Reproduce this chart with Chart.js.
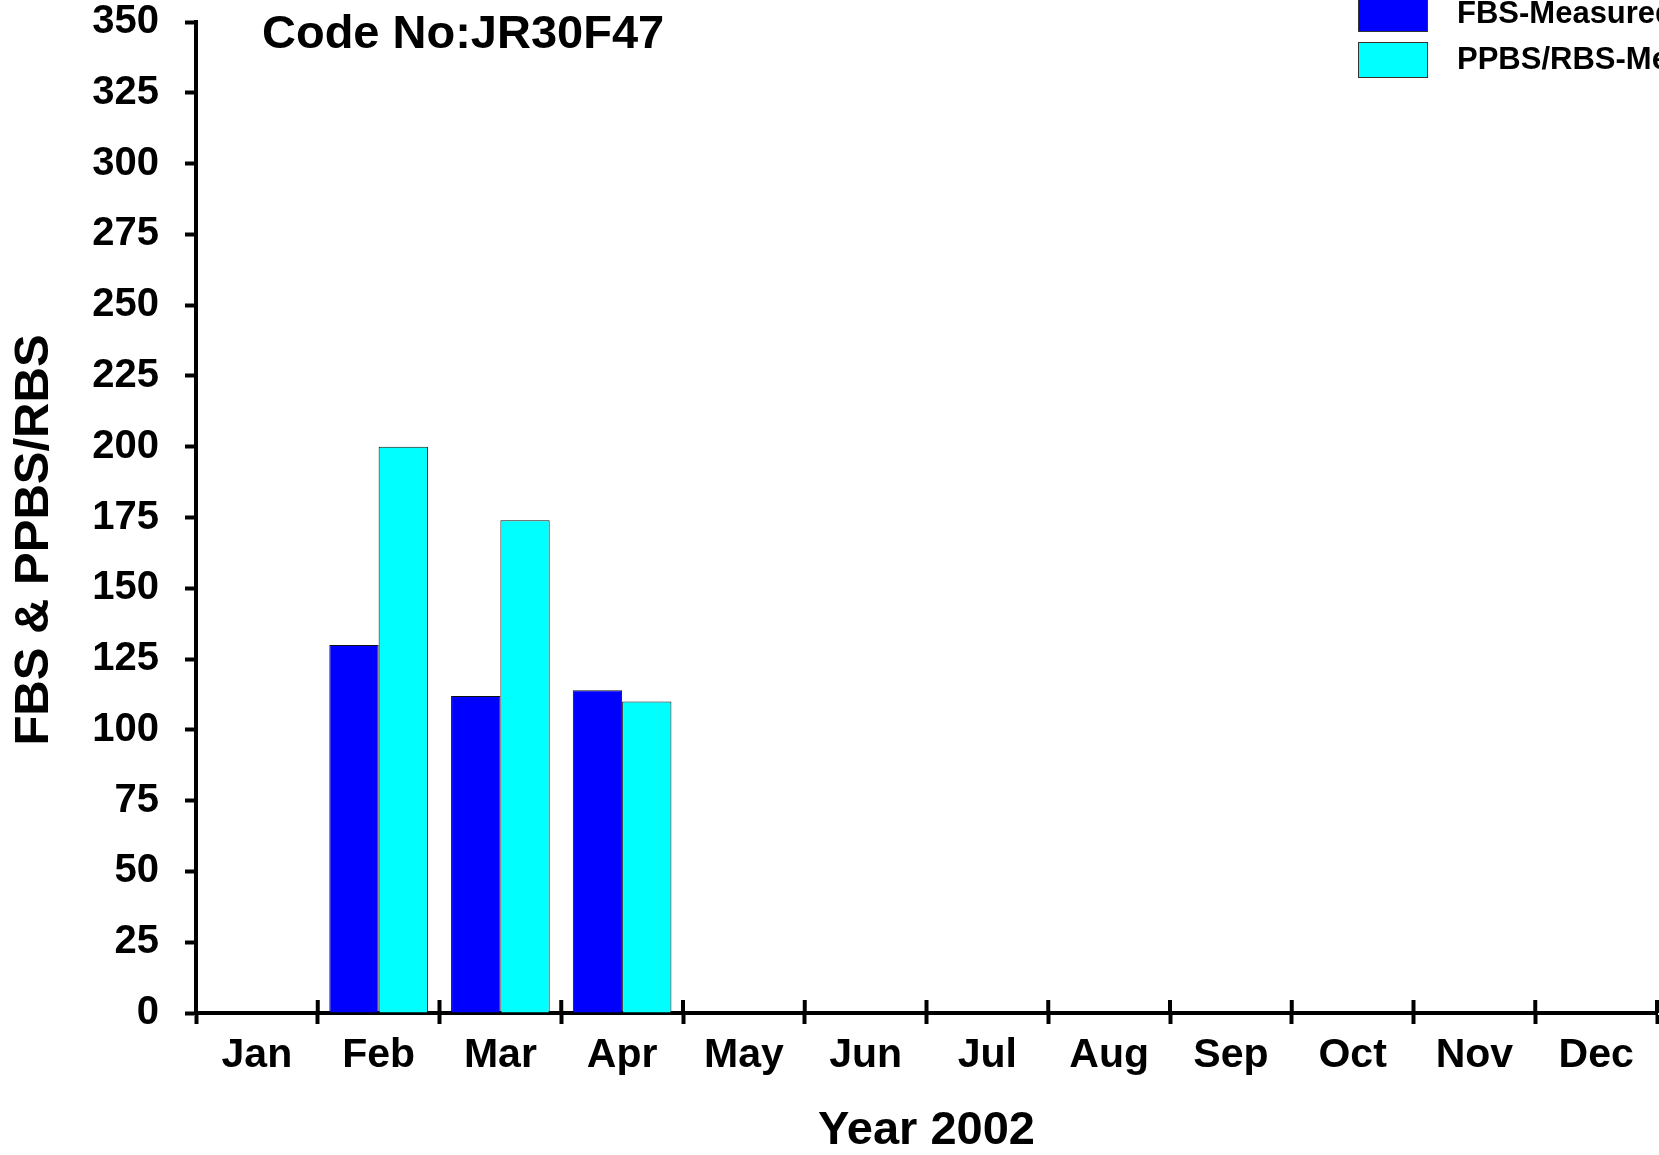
<!DOCTYPE html>
<html>
<head>
<meta charset="utf-8">
<title>Code No:JR30F47</title>
<script src="https://cdn.jsdelivr.net/npm/chart.js@4.4.1/dist/chart.umd.min.js"></script>
<style>
  body { margin: 0; background: #fff; }
  canvas { display: block; }
</style>
</head>
<body>
<canvas id="barChart" width="1659" height="1155"></canvas>
<script>
var months = ["Jan","Feb","Mar","Apr","May","Jun","Jul","Aug","Sep","Oct","Nov","Dec"];
var fbs    = [null, 130, 112, 114, null, null, null, null, null, null, null, null];
var ppbs   = [null, 200, 174, 110, null, null, null, null, null, null, null, null];
var seriesNames = ["FBS-Measured", "PPBS/RBS-Measured"];
var codeNo = "Code No:JR30F47";
var yTitle = "FBS & PPBS/RBS";

var FONT = "'Liberation Sans', Arial, sans-serif";

// ticks that cross the x axis (inner half), y title, code label and legend in the corner
var extras = {
    id: "extras",
    afterDraw: function(chart){
        var ctx = chart.ctx;
        var xs = chart.scales.x;
        var area = chart.chartArea;
        ctx.save();
        ctx.strokeStyle = "#000";
        ctx.lineWidth = 4;
        for (var i = 0; i <= months.length; i++) {
            var px = xs.getPixelForValue(i - 0.5);
            ctx.beginPath();
            ctx.moveTo(px, area.bottom);
            ctx.lineTo(px, area.bottom - 13);
            ctx.stroke();
        }

        ctx.fillStyle = "#000";
        ctx.save();
        ctx.translate(34, 540);
        ctx.rotate(-Math.PI / 2);
        ctx.font = "bold 49px " + FONT;
        ctx.textAlign = "center";
        ctx.textBaseline = "middle";
        ctx.fillText(yTitle, 0, 0);
        ctx.restore();

        ctx.font = "bold 47px " + FONT;
        ctx.textBaseline = "alphabetic";
        ctx.textAlign = "left";
        ctx.fillText(codeNo, 262, 48);

        var colors = chart.data.datasets.map(function(d){ return d.backgroundColor; });
        ctx.font = "bold 31px " + FONT;
        ctx.textBaseline = "middle";
        ctx.lineWidth = 1;
        ctx.strokeStyle = "#333";
        for (var j = 0; j < seriesNames.length; j++) {
            var by = -4 + j * 46;
            ctx.fillStyle = colors[j];
            ctx.fillRect(1358, by, 69, 35);
            ctx.strokeRect(1358.5, by + 0.5, 69, 35);
            ctx.fillStyle = "#000";
            ctx.fillText(seriesNames[j], 1457, by + 18);
        }
        ctx.restore();
    }
};

new Chart(document.getElementById("barChart"), {
    "type" : "bar",
    "data" : {
        "labels" : months,
        "datasets" : [
            {
                "label" : seriesNames[0],
                "data" : fbs,
                "backgroundColor" : "#0000ff",
                "borderColor" : "#111",
                "borderWidth" : 1
            },
            {
                "label" : seriesNames[1],
                "data" : ppbs,
                "backgroundColor" : "#00ffff",
                "borderColor" : "#111",
                "borderWidth" : 1
            }
        ]
    },
    "options" : {
        "responsive" : false,
        "animation" : false,
        "layout" : { "padding" : { "top" : 22, "right" : 2, "left" : 0, "bottom" : 0 } },
        "datasets" : { "bar" : { "categoryPercentage" : 0.81, "barPercentage" : 1 } },
        "plugins" : {
            "legend" : { "display" : false },
            "tooltip" : { "enabled" : false }
        },
        "scales" : {
            "x" : {
                "offset" : true,
                "afterFit" : function(scale){
                    scale.height = 142;
                    scale.paddingLeft = 0;
                    scale.paddingRight = 0;
                },
                "grid" : { "offset" : true, "drawOnChartArea" : false, "tickLength" : 11, "tickWidth" : 4, "tickColor" : "#000" },
                "border" : { "display" : true, "color" : "#000", "width" : 4 },
                "ticks" : { "color" : "#000", "padding" : 11, "maxRotation" : 0, "font" : { "family" : FONT, "size" : 41, "weight" : "bold", "lineHeight" : 1 } },
                "title" : { "display" : true, "text" : "Year 2002", "color" : "#000", "padding" : { "top" : 0, "bottom" : 0 }, "font" : { "family" : FONT, "size" : 47, "weight" : "bold", "lineHeight" : 1 } }
            },
            "y" : {
                "min" : 0,
                "max" : 350,
                "afterFit" : function(scale){
                    scale.width = 196;
                    scale.paddingTop = 0;
                    scale.paddingBottom = 0;
                },
                "grid" : { "drawOnChartArea" : false, "tickLength" : 11, "tickWidth" : 4, "tickColor" : "#000" },
                "border" : { "display" : true, "color" : "#000", "width" : 4 },
                "ticks" : { "stepSize" : 25, "color" : "#000", "padding" : 26, "font" : { "family" : FONT, "size" : 40, "weight" : "bold", "lineHeight" : 1 } },
                "title" : { "display" : false }
            }
        }
    },
    "plugins" : [extras]
});
</script>
</body>
</html>
